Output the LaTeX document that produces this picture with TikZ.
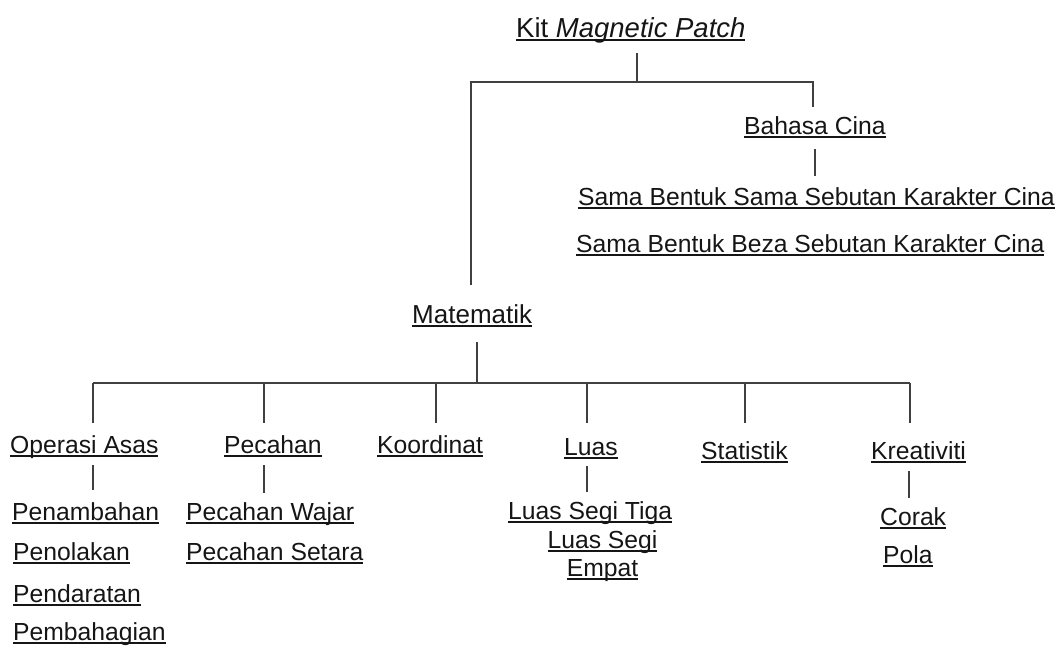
\documentclass[tikz,border=0pt]{standalone}
\usepackage{fontspec}
\setmainfont{Liberation Sans}
% underlined label: rule at a fixed depth so it runs straight through descenders
\newcommand\ulword[1]{\setbox0\hbox{#1}\rlap{\rule[-0.16em]{\wd0}{0.07em}}\box0}
\definecolor{ink}{HTML}{151515}
\definecolor{wire}{HTML}{404040}
\tikzset{
  lbl/.style={inner sep=0pt, anchor=base west, text=ink, text height=18pt, text depth=6pt,
              font=\fontsize{24.7}{28}\selectfont},
  titlelbl/.style={lbl, text height=20pt, font=\fontsize{27.5}{32}\selectfont},
  midlbl/.style={lbl, text height=19pt, font=\fontsize{26}{30}\selectfont},
  link/.style={draw=wire, line width=1.8pt, line join=miter}
}
\begin{document}
\begin{tikzpicture}[x=1pt, y=-1pt]
\useasboundingbox (0,0) rectangle (1059,645);

% root
\node[titlelbl] (kit) at (516,37) {\ulword{Kit \textit{Magnetic Patch}}};

% Chinese branch
\node[lbl] (bc)  at (744,134) {\ulword{Bahasa Cina}};
\node[lbl] (bc1) at (578,205) {\ulword{Sama Bentuk Sama Sebutan Karakter Cina}};
\node[lbl] (bc2) at (576,252) {\ulword{Sama Bentuk Beza Sebutan Karakter Cina}};

% mathematics branch
\node[midlbl] (mat) at (412,323) {\ulword{Matematik}};

\node[lbl] (oa)  at (10,453)  {\ulword{Operasi Asas}};
\node[lbl] (oa1) at (12,520)  {\ulword{Penambahan}};
\node[lbl] (oa2) at (13,560)  {\ulword{Penolakan}};
\node[lbl] (oa3) at (13,602)  {\ulword{Pendaratan}};
\node[lbl] (oa4) at (13,640)  {\ulword{Pembahagian}};

\node[lbl] (pc)  at (224,453) {\ulword{Pecahan}};
\node[lbl] (pc1) at (186,520) {\ulword{Pecahan Wajar}};
\node[lbl] (pc2) at (186,560) {\ulword{Pecahan Setara}};

\node[lbl] (ko)  at (377,453) {\ulword{Koordinat}};

\node[lbl] (lu)  at (564,455) {\ulword{Luas}};
\node[lbl] (lu1) at (508,519) {\ulword{Luas Segi Tiga}};
% two-line label; its base anchor sits on the last line
\node[lbl, anchor=base, align=center, text height=, text depth=] (lu2) at (602.5,576)
  {\ulword{Luas Segi}\\\ulword{Empat}};

\node[lbl] (st)  at (701,459) {\ulword{Statistik}};

\node[lbl] (kr)  at (871,459) {\ulword{Kreativiti}};
\node[lbl] (kr1) at (880,525) {\ulword{Corak}};
\node[lbl] (kr2) at (883,563) {\ulword{Pola}};

% junction points of the tree
\coordinate (jtop) at (637,82);
\coordinate (lb)   at (471,82);
\coordinate (rb)   at (813,82);
\coordinate (jm)   at (477,383);
\coordinate (b1)   at (93,383);
\coordinate (b2)   at (264,383);
\coordinate (b3)   at (436,383);
\coordinate (b4)   at (587,383);
\coordinate (b5)   at (745,383);
\coordinate (b6)   at (910,383);

% upper tree
\draw[link, shorten >=10pt] (jtop) -- (kit.south -| jtop);
\draw[link, shorten <=19pt, shorten >=9pt] (mat.north -| lb) -- (lb) -- (rb) -- (bc.north -| rb);
\draw[link, shorten <=9pt, shorten >=11pt] (bc.south) -- (bc.south |- bc1.north);

% lower tree
\draw[link, shorten >=13pt] (jm) -- (mat.south -| jm);
\draw[link] (b1) -- (b6);
\draw[link, shorten >=12pt] (b1) -- (oa.north -| b1);
\draw[link, shorten >=12pt] (b2) -- (pc.north -| b2);
\draw[link, shorten >=12pt] (b3) -- (ko.north -| b3);
\draw[link, shorten >=14pt] (b4) -- (lu.north -| b4);
\draw[link, shorten >=18pt] (b5) -- (st.north -| b5);
\draw[link, shorten >=18pt] (b6) -- (kr.north -| b6);

% stems to the leaf lists
\draw[link, shorten <=6pt, shorten >=12pt] (oa.south -| b1) -- (oa1.north -| b1);
\draw[link, shorten <=6pt, shorten >=9pt]  (pc.south -| b2) -- (pc1.north -| b2);
\draw[link, shorten <=5pt, shorten >=9pt]  (lu.south -| b4) -- (lu1.north -| b4);
\draw[link, shorten <=6pt, shorten >=9pt]  ([xshift=-1pt]kr.south -| b6) -- ([xshift=-1pt]kr1.north -| b6);
\end{tikzpicture}
\end{document}
